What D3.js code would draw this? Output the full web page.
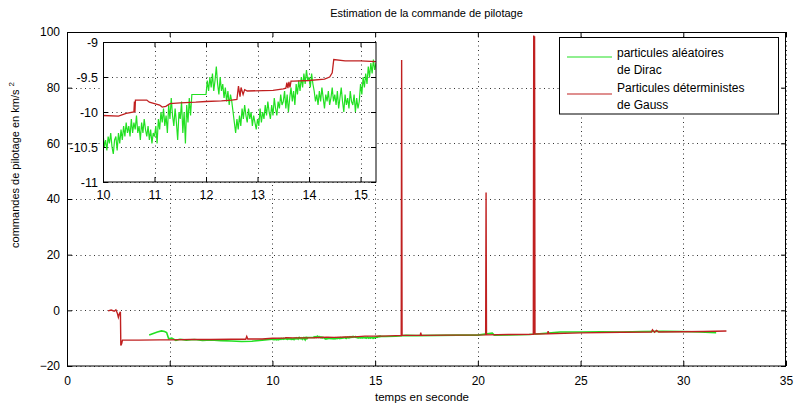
<!DOCTYPE html>
<html><head><meta charset="utf-8">
<script src="https://cdn.jsdelivr.net/npm/d3@7/dist/d3.min.js"></script>
<style>body{margin:0;background:#fff}svg{display:block}text{font-family:"Liberation Sans",Arial,sans-serif}</style>
</head><body>
<script>
// ---------------- DATA ----------------
const titleText = "Estimation de la commande de pilotage";
const xLabelText = "temps en seconde";
const yLabelText = "commandes de pilotage en km/s";
const legendGreen = ["particules aléatoires", "de Dirac"];
const legendRed = ["Particules déterministes", "de Gauss"];

const mainXTicks = [0, 5, 10, 15, 20, 25, 30, 35];
const mainYTicks = [-20, 0, 20, 40, 60, 80, 100];
const insetXTicks = [10, 11, 12, 13, 14, 15];
const insetYTicks = [-11, -10.5, -10, -9.5, -9];

// Red series: déterministes de Gauss  [time, value]
const redMain = [
  [2.0,-0.2],[2.15,0.1],[2.3,-0.3],[2.38,0.2],[2.45,-1.0],[2.5,-2.5],[2.55,-1.2],[2.6,-0.5],
  [2.62,-12.6],[2.66,-12.0],[2.7,-10.7],[3.5,-10.7],[4.5,-10.6],[5.0,-10.6],[6.0,-10.5],
  [7.0,-10.5],[8.0,-10.4],[8.7,-10.4],[8.75,-9.4],[8.8,-10.3],[9.5,-10.3],[10.0,-10.05],
  [10.6,-10.0],[10.65,-9.83],[11.0,-9.88],[12.0,-9.85],[12.65,-9.65],[13.0,-9.7],[13.6,-9.58],
  [14.0,-9.55],[14.5,-9.27],[15.3,-9.27],[16.0,-9.1],[16.27,-9.05],[16.29,89.9],[16.31,-9.0],
  [17.2,-9.0],[17.22,-8.0],[17.25,-9.0],[18.5,-8.9],[20.38,-8.8],[20.4,42.3],[20.42,-8.8],
  [21.5,-8.7],[22.7,-8.6],[22.72,98.7],[22.74,-8.6],[22.76,98.5],[22.78,-8.5],[23.4,-8.4],
  [23.42,-7.5],[23.45,-8.4],[25.0,-8.1],[27.0,-7.9],[28.45,-7.8],[28.5,-7.0],[28.6,-7.9],
  [28.7,-7.2],[28.8,-7.8],[30.0,-7.7],[31.0,-7.6],[32.1,-7.4]
];

const redInset = [
  [10.0,-10.05],[10.3,-10.06],[10.45,-10.02],[10.6,-10.0],[10.61,-9.85],[10.62,-10.0],[10.63,-9.83],
  [10.85,-9.83],[10.9,-9.86],[11.05,-9.89],[11.1,-9.9],[11.15,-9.93],[11.22,-9.92],[11.3,-9.88],
  [11.5,-9.87],[11.8,-9.86],[12.0,-9.85],[12.3,-9.84],[12.5,-9.83],[12.6,-9.82],[12.63,-9.63],
  [12.66,-9.78],[12.68,-9.65],[12.72,-9.75],[12.75,-9.68],[12.8,-9.7],[13.3,-9.69],[13.5,-9.67],
  [13.55,-9.66],[13.57,-9.58],[13.59,-9.66],[13.61,-9.57],[13.63,-9.65],[13.65,-9.56],[13.7,-9.56],
  [14.0,-9.55],[14.3,-9.53],[14.4,-9.5],[14.45,-9.44],[14.48,-9.25],[14.7,-9.27],[15.0,-9.27],[15.3,-9.28]
];

// Green series: aléatoires de Dirac
const greenEarly = [
  [4.0,-8.9],[4.2,-8.3],[4.4,-7.8],[4.6,-7.4],[4.75,-7.6],[4.85,-8.0],[4.95,-10.2],[5.1,-10.0],
  [5.3,-10.8],[5.5,-10.4],[5.8,-10.7],[6.2,-10.5],[6.6,-10.8],[7.0,-10.6],[7.5,-10.9],[8.0,-11.0],
  [8.5,-11.2],[9.0,-11.1],[9.5,-10.7],[9.975,-10.4]
];
// sampled every 0.025 s from t = 10 s to 15.3 s
const greenInsetStart = 10, greenInsetStep = 0.025;
const greenInsetValues = [
  -10.3,-10.5,-10.4,-10.55,-10.35,-10.45,-10.3,-10.5,-10.6,-10.4,-10.35,-10.55,-10.3,-10.45,-10.25,-10.4,-10.2,-10.35,-10.15,-10.3,
  -10.2,-10.35,-10.1,-10.3,-10.15,-10.25,-10.05,-10.3,-10.2,-10.4,-10.15,-10.3,-10.1,-10.25,-10.35,-10.2,-10.4,-10.25,-10.45,-10.3,
  -10.35,-10.2,-10.45,-10.1,-10.25,-10.0,-10.15,-9.95,-10.2,-10.05,-10.3,-9.9,-10.1,-9.8,-10.05,-10.2,-9.95,-10.15,-10.4,-10.0,
  -10.1,-9.85,-10.3,-10.0,-10.45,-9.9,-10.15,-9.8,-10.05,-9.75,-9.75,-9.75,-9.75,-9.75,-9.75,-9.75,-9.75,-9.75,-9.75,-9.75,
  -9.75,-9.55,-9.7,-9.5,-9.65,-9.45,-9.7,-9.55,-9.35,-9.6,-9.75,-9.5,-9.7,-9.6,-9.8,-9.65,-9.85,-9.7,-9.9,-9.75,
  -9.85,-10.0,-10.15,-10.3,-10.1,-10.25,-10.05,-10.2,-9.95,-10.1,-9.9,-10.05,-10.15,-9.95,-10.1,-10.0,-10.2,-10.05,-10.15,-10.25,
  -10.1,-10.2,-9.95,-10.15,-10.0,-10.1,-9.9,-10.05,-9.85,-10.0,-10.1,-9.9,-10.05,-9.8,-9.95,-10.05,-9.85,-9.95,-9.75,-9.9,
  -9.85,-9.7,-9.95,-9.75,-10.0,-9.8,-9.65,-9.85,-9.7,-9.9,-9.6,-9.75,-9.55,-9.7,-9.5,-9.65,-9.45,-9.6,-9.4,-9.55,
  -9.5,-9.65,-9.45,-9.6,-9.7,-9.85,-9.75,-9.9,-9.7,-9.85,-9.65,-9.8,-9.95,-9.75,-9.85,-9.7,-9.9,-9.8,-9.65,-9.85,
  -9.75,-9.9,-9.7,-9.95,-9.8,-9.65,-9.85,-10.0,-9.75,-9.9,-9.8,-9.95,-9.7,-9.85,-9.9,-9.75,-10.0,-9.8,-9.95,-9.85,
  -9.6,-9.75,-9.5,-9.65,-9.45,-9.6,-9.35,-9.5,-9.3,-9.45,-9.25,-9.4,-9.3
];
const greenLate = [
  [15.5,-9.4],[16.0,-9.3],[16.5,-9.0],[17.0,-9.1],[18.0,-9.0],[19.0,-8.9],[20.0,-8.9],[20.7,-8.2],
  [20.8,-8.9],[21.5,-8.8],[22.5,-8.7],[23.0,-8.4],[24.0,-7.8],[25.0,-7.8],[26.0,-7.7],[27.0,-7.8],
  [28.0,-7.6],[29.0,-7.5],[30.0,-7.6],[30.8,-7.8],[31.6,-8.0]
];

// ---------------- DRAW ----------------
const W = 794, H = 406;
const GREEN = "#22e022", RED = "#c02020";
const svg = d3.select("body").append("svg").attr("width", W).attr("height", H);
svg.append("rect").attr("width", W).attr("height", H).attr("fill", "#fff");

const greenInset = greenInsetValues.map((v, i) => [greenInsetStart + i * greenInsetStep, v]);
const greenMain = greenEarly.concat(greenInset, greenLate);

function drawAxes(g, x, y, xt, yt, fs, xfmt, yfmt, xpad, ypad) {
  const [x0, x1] = x.range(), [y0, y1] = y.range();
  // grid
  const grid = g.append("g").attr("stroke", "#333").attr("stroke-width", 1).attr("stroke-dasharray", "1,3.5");
  grid.selectAll(".gx").data(xt).join("line")
    .attr("x1", d => Math.round(x(d)) + 0.5).attr("x2", d => Math.round(x(d)) + 0.5).attr("y1", y1).attr("y2", y0);
  grid.selectAll(".gy").data(yt).join("line")
    .attr("y1", d => Math.round(y(d)) + 0.5).attr("y2", d => Math.round(y(d)) + 0.5).attr("x1", x0).attr("x2", x1);
  const mk = (axis, tr) => {
    const a = g.append("g").attr("transform", tr).call(axis);
    a.select(".domain").remove();
    a.selectAll("text").attr("font-size", fs).attr("fill", "#000").attr("font-family", "Liberation Sans, Arial, sans-serif");
    return a;
  };
  mk(d3.axisBottom(x).tickValues(xt).tickSizeInner(-5).tickSizeOuter(0).tickPadding(xpad).tickFormat(xfmt), `translate(0,${y0})`);
  mk(d3.axisTop(x).tickValues(xt).tickSizeInner(-5).tickSizeOuter(0).tickFormat(""), `translate(0,${y1})`);
  mk(d3.axisLeft(y).tickValues(yt).tickSizeInner(-5).tickSizeOuter(0).tickPadding(ypad).tickFormat(yfmt), `translate(${x0},0)`);
  mk(d3.axisRight(y).tickValues(yt).tickSizeInner(-5).tickSizeOuter(0).tickFormat(""), `translate(${x1},0)`);
}

// ---- main axes
const x = d3.scaleLinear().domain([0, 35]).range([67, 786]);
const y = d3.scaleLinear().domain([-20, 100]).range([366, 32]);
const main = svg.append("g");
drawAxes(main, x, y, mainXTicks, mainYTicks, 12, d3.format("d"), d3.format("d"), 10, 7);

const clipMain = svg.append("clipPath").attr("id", "cm").append("rect")
  .attr("x", 67).attr("y", 32).attr("width", 719).attr("height", 334);
const line = d3.line().x(d => x(d[0])).y(d => y(d[1]));
const plotM = main.append("g").attr("clip-path", "url(#cm)");
plotM.append("path").datum(greenMain).attr("d", line).attr("fill", "none").attr("stroke", GREEN).attr("stroke-width", 1.6);
plotM.append("path").datum(redMain).attr("d", line).attr("fill", "none").attr("stroke", RED).attr("stroke-width", 1.4);

main.append("rect").attr("x", 67.5).attr("y", 32.5).attr("width", 718).attr("height", 333.5)
  .attr("fill", "none").attr("stroke", "#000").attr("stroke-width", 1);

// title & labels
svg.append("text").attr("x", (67 + 786) / 2).attr("y", 17).attr("text-anchor", "middle")
  .attr("font-size", 11).text(titleText);
svg.append("text").attr("x", 422).attr("y", 401).attr("text-anchor", "middle")
  .attr("font-size", 11.5).text(xLabelText);
const yl = svg.append("text").attr("transform", "translate(19,165) rotate(-90)").attr("text-anchor", "middle")
  .attr("font-size", 11);
yl.append("tspan").text(yLabelText);
yl.append("tspan").attr("dx", 3).attr("dy", -5).attr("font-size", 8).text("2");

// legend
const lg = svg.append("g");
lg.append("rect").attr("x", 559.5).attr("y", 37.5).attr("width", 219).attr("height", 76.5)
  .attr("fill", "#fff").attr("stroke", "#000").attr("stroke-width", 1);
const legendItems = [{c: GREEN, t: legendGreen, ly: 57, ty: 57}, {c: RED, t: legendRed, ly: 94, ty: 92}];
legendItems.forEach(it => {
  lg.append("line").attr("x1", 567).attr("x2", 612).attr("y1", it.ly).attr("y2", it.ly)
    .attr("stroke", it.c).attr("stroke-width", 1.2);
  it.t.forEach((s, i) => lg.append("text").attr("x", 617).attr("y", it.ty + i * 17).attr("font-size", 12).text(s));
});

// ---- inset axes
const xi = d3.scaleLinear().domain([10, 15.3]).range([103, 376]);
const yi = d3.scaleLinear().domain([-11, -9]).range([182, 42]);
const inset = svg.append("g");
inset.append("rect").attr("x", 103).attr("y", 42).attr("width", 273).attr("height", 140).attr("fill", "#fff");
drawAxes(inset, xi, yi, insetXTicks, insetYTicks, 12.5, d3.format("d"), d => String(d), 8, 5);
svg.append("clipPath").attr("id", "ci").append("rect")
  .attr("x", 103).attr("y", 42).attr("width", 273).attr("height", 140);
const linei = d3.line().x(d => xi(d[0])).y(d => yi(d[1]));
const plotI = inset.append("g").attr("clip-path", "url(#ci)");
plotI.append("path").datum(greenInset).attr("d", linei).attr("fill", "none").attr("stroke", GREEN).attr("stroke-width", 1.2);
plotI.append("path").datum(redInset).attr("d", linei).attr("fill", "none").attr("stroke", RED).attr("stroke-width", 1.3);
inset.append("rect").attr("x", 103.5).attr("y", 42.5).attr("width", 272.5).attr("height", 139.5)
  .attr("fill", "none").attr("stroke", "#000").attr("stroke-width", 1);
</script>
</body></html>
